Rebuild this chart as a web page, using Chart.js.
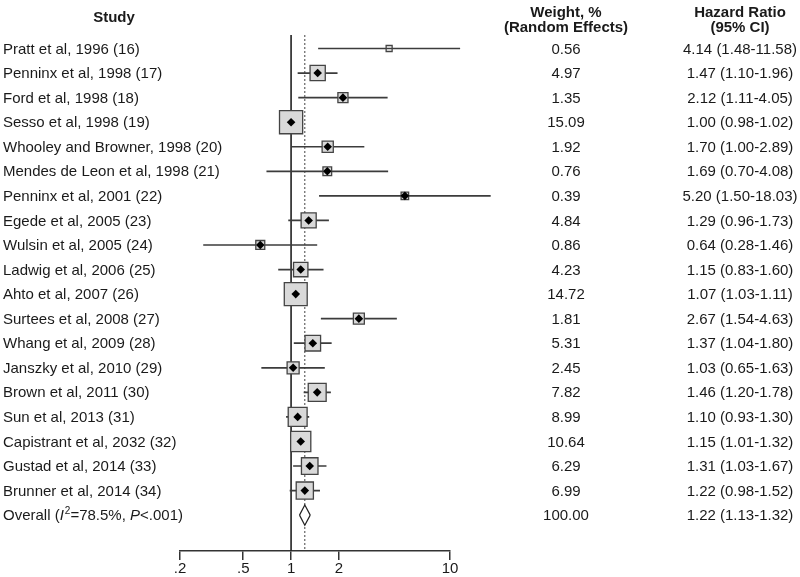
<!DOCTYPE html>
<html>
<head>
<meta charset="utf-8">
<script src="https://cdn.jsdelivr.net/npm/chart.js@4.4.0/dist/chart.umd.min.js"></script>
<style>
  html, body { margin: 0; padding: 0; background: #fff; }
</style>
</head>
<body>
<canvas id="mycanvas" width="800" height="577"></canvas>
<script>
// forest plot data
var studies = [
  "Pratt et al, 1996 (16)",
  "Penninx et al, 1998 (17)",
  "Ford et al, 1998 (18)",
  "Sesso et al, 1998 (19)",
  "Whooley and Browner, 1998 (20)",
  "Mendes de Leon et al, 1998 (21)",
  "Penninx et al, 2001 (22)",
  "Egede et al, 2005 (23)",
  "Wulsin et al, 2005 (24)",
  "Ladwig et al, 2006 (25)",
  "Ahto et al, 2007 (26)",
  "Surtees et al, 2008 (27)",
  "Whang et al, 2009 (28)",
  "Janszky et al, 2010 (29)",
  "Brown et al, 2011 (30)",
  "Sun et al, 2013 (31)",
  "Capistrant et al, 2032 (32)",
  "Gustad et al, 2014 (33)",
  "Brunner et al, 2014 (34)"
];
var weights = [0.56, 4.97, 1.35, 15.09, 1.92, 0.76, 0.39, 4.84, 0.86, 4.23, 14.72, 1.81, 5.31, 2.45, 7.82, 8.99, 10.64, 6.29, 6.99];
var hr  = [4.14, 1.47, 2.12, 1.00, 1.70, 1.69, 5.20, 1.29, 0.64, 1.15, 1.07, 2.67, 1.37, 1.03, 1.46, 1.10, 1.15, 1.31, 1.22];
var lo  = [1.48, 1.10, 1.11, 0.98, 1.00, 0.70, 1.50, 0.96, 0.28, 0.83, 1.03, 1.54, 1.04, 0.65, 1.20, 0.93, 1.01, 1.03, 0.98];
var hi  = [11.58, 1.96, 4.05, 1.02, 2.89, 4.08, 18.03, 1.73, 1.46, 1.60, 1.11, 4.63, 1.80, 1.63, 1.78, 1.30, 1.32, 1.67, 1.52];

var overallWeight = 100.00;
var overallHR = 1.22;
var overallLo = 1.13;
var overallHi = 1.32;

var tickVals = [0.2, 0.5, 1, 2, 10];
var tickLabels = [".2", ".5", "1", "2", "10"];

var overallRow = studies.length;
var halfH = 0.41;

function fmt(v) { return v.toFixed(2); }

var pts = [], ciData = [];
for (var i = 0; i < studies.length; i++) {
    pts.push({x: hr[i], y: i});
    ciData.push({x: lo[i], y: i});
    ciData.push({x: hi[i], y: i});
    ciData.push({x: null, y: null});
}

var topY = -0.55, botY = overallRow + 1.46;

var FONT = '"Liberation Sans", Arial, Helvetica, sans-serif';

var textPlugin = {
    id: 'forestText',
    afterDraw: function(chart) {
        var c = chart.ctx;
        var ys = chart.scales.y;
        var wX = 566, hX = 740;
        c.save();
        c.fillStyle = '#1a1a1a';
        c.textBaseline = 'middle';

        // headers
        c.font = 'bold 15px ' + FONT;
        c.textAlign = 'center';
        c.fillText('Study', 114, 18);
        c.fillText('Weight, %', wX, 13);
        c.fillText('(Random Effects)', wX, 28);
        c.fillText('Hazard Ratio', hX, 13);
        c.fillText('(95% CI)', hX, 28);

        c.font = '15px ' + FONT;
        for (var i = 0; i < studies.length; i++) {
            var ty = ys.getPixelForValue(i) + 1;
            c.textAlign = 'left';
            c.fillText(studies[i], 3, ty);
            c.textAlign = 'center';
            c.fillText(fmt(weights[i]), wX, ty);
            c.fillText(fmt(hr[i]) + ' (' + fmt(lo[i]) + '-' + fmt(hi[i]) + ')', hX, ty);
        }

        // overall row, with italic I² and P
        var oy = ys.getPixelForValue(overallRow) + 1;
        var parts = [
            ['Overall (', '15px ', 0],
            ['I', 'italic 15px ', 0],
            ['2', '10px ', -5],
            ['=78.5%, ', '15px ', 0],
            ['P', 'italic 15px ', 0],
            ['<.001)', '15px ', 0]
        ];
        var x = 3;
        c.textAlign = 'left';
        parts.forEach(function(p) {
            c.font = p[1] + FONT;
            c.fillText(p[0], x, oy + p[2]);
            x += c.measureText(p[0]).width + (p[0] === 'I' ? 1 : 0);
        });
        c.textAlign = 'center';
        c.font = '15px ' + FONT;
        c.fillText(fmt(overallWeight), wX, oy);
        c.fillText(fmt(overallHR) + ' (' + fmt(overallLo) + '-' + fmt(overallHi) + ')', hX, oy);
        c.restore();
    }
};

var ctx = document.getElementById('mycanvas');

var chart = new Chart(ctx, {
    type: 'scatter',
    data: {
        datasets: [
            {
                // point estimate markers
                data: pts,
                pointStyle: 'rectRot',
                pointRadius: function(c) { return c.dataIndex === 0 ? 0 : 4.3; },
                backgroundColor: '#000',
                borderWidth: 0,
                clip: false
            },
            {
                // weight boxes
                data: pts,
                pointStyle: 'rect',
                pointRadius: function(c) {
                    var w = weights[c.dataIndex];
                    var side = c.dataIndex === 0 ? 6 : 4.5 + 4.8 * Math.sqrt(w);
                    return side / Math.SQRT2;
                },
                backgroundColor: function(c) { return c.dataIndex === 0 ? 'rgba(0,0,0,0)' : '#d9d9d9'; },
                borderColor: '#444',
                borderWidth: 1.3,
                clip: false
            },
            {
                type: 'line',
                data: [{x: overallLo, y: overallRow}, {x: overallHR, y: overallRow - halfH}, {x: overallHi, y: overallRow}],
                borderColor: '#222',
                borderWidth: 1.2,
                pointRadius: 0,
                tension: 0,
                fill: false,
                showLine: true
            },
            {
                type: 'line',
                data: [{x: overallLo, y: overallRow}, {x: overallHR, y: overallRow + halfH}, {x: overallHi, y: overallRow}],
                borderColor: '#222',
                borderWidth: 1.2,
                backgroundColor: '#fff',
                pointRadius: 0,
                tension: 0,
                fill: 2,
                showLine: true
            },
            {
                // confidence intervals
                type: 'line',
                data: ciData,
                borderColor: '#3c3c3c',
                borderWidth: 1.7,
                pointRadius: 0,
                spanGaps: false,
                showLine: true,
                clip: false
            },
            {
                type: 'line',
                data: [{x: 1, y: topY}, {x: 1, y: botY}],
                borderColor: '#222',
                borderWidth: 1.6,
                pointRadius: 0,
                showLine: true
            },
            {
                type: 'line',
                data: [{x: overallHR, y: topY}, {x: overallHR, y: botY}],
                borderColor: '#444',
                borderWidth: 1,
                borderDash: [2, 2],
                pointRadius: 0,
                showLine: true
            }
        ]
    },
    options: {
        responsive: false,
        animation: false,
        events: [],
        layout: { padding: { left: 180, right: 350, top: 35, bottom: 0 } },
        plugins: { legend: { display: false }, tooltip: { enabled: false } },
        scales: {
            x: {
                type: 'logarithmic',
                min: 0.2,
                max: 10,
                afterBuildTicks: function(scale) {
                    scale.ticks = tickVals.map(function(v) { return {value: v}; });
                },
                ticks: {
                    autoSkip: false,
                    maxRotation: 0,
                    padding: 1,
                    color: '#1a1a1a',
                    font: { family: FONT, size: 15, lineHeight: 1 },
                    callback: function(value, index) { return tickLabels[index]; }
                },
                grid: { drawOnChartArea: false, drawTicks: true, tickLength: 9, color: '#333', lineWidth: 1.5 },
                border: { display: true, color: '#333', width: 1.5 }
            },
            y: {
                type: 'linear',
                display: false,
                reverse: true,
                min: topY,
                max: botY
            }
        }
    },
    plugins: [textPlugin]
});
</script>
</body>
</html>
